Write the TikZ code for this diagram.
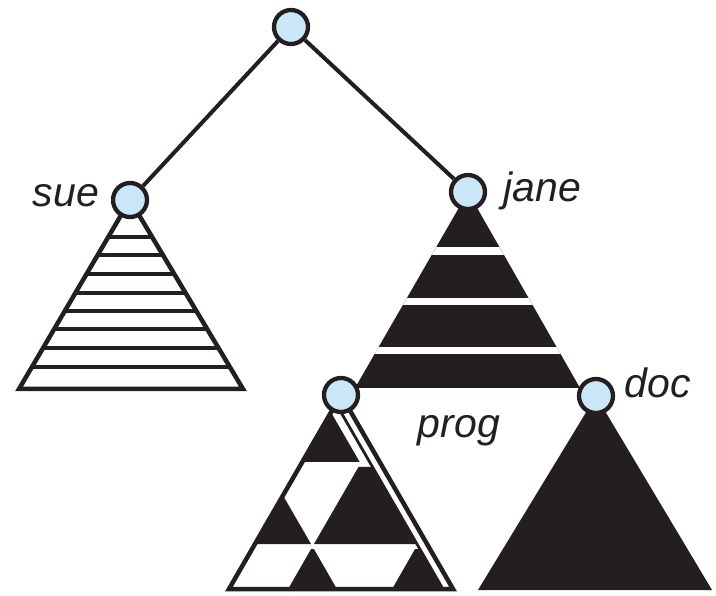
\documentclass[tikz,border=0pt]{standalone}
\usepackage{fontspec}
\setmainfont{Liberation Sans}
\usetikzlibrary{positioning,backgrounds}
\definecolor{ink}{HTML}{231F20}
\definecolor{dirblue}{HTML}{CBE6F6}

\begin{document}
\begin{tikzpicture}[x=1pt,y=-1pt,
    dirnode/.style={circle,draw=ink,fill=dirblue,line width=4.3pt,minimum size=34pt,inner sep=0pt},
    lbl/.style={font=\fontsize{41}{44}\selectfont\itshape,text=ink,inner sep=0pt,anchor=base},
    edge/.style={draw=ink,line width=4pt},
    outline/.style={draw=ink,line width=4.5pt},
    stripe/.style={draw=ink,line width=3.8pt}]
    \useasboundingbox (0,0) rectangle (716,596);

    % directories
    \node[dirnode] (root) at (291,27) {};
    \node[dirnode] (sue) at (130,200) {};
    \node[dirnode] (jane) at (468,192) {};
    \node[dirnode] (prog) at (341,395) {};
    \node[dirnode] (doc) at (596,396) {};

    \draw[edge] (root) -- (sue);
    \draw[edge] (root) -- (jane);

    % names
    \node[lbl] (suelbl) at (66,207) {sue};
    \node[lbl] (janelbl) at (542.5,202) {jane};
    \node[lbl] (proglbl) at (459,438) {prog};
    \node[lbl] (doclbl) at (657.5,398) {doc};

    \begin{pgfonlayer}{background}
      % sue: striped subtree
      \begin{scope}
        \clip (sue.center) -- (19,389) -- (243,389) -- cycle;
        \foreach \y in {236.7,255,273.7,292.7,310.7,329.3,348.3,366.7}
          \draw[stripe] (0,\y) -- (260,\y);
      \end{scope}
      \draw[outline] (sue.center) -- (19,389) -- (243,389) -- cycle;

      % jane: black with white bands
      \begin{scope}
        \clip (jane.center) -- (355,388) -- (580,388) -- cycle;
        \fill[ink] (300,150) rectangle (650,400);
        \foreach \y in {251,301.5,350.5}
          \fill[white] (300,\y-3.8) rectangle (650,\y+3.8);
      \end{scope}

      % doc: solid
      \fill[ink] (doc.center) -- (478,590) -- (712,590) -- cycle;

      % prog: checkered
      \fill[ink] (331,412.3) -- (302.3,462) -- (359.7,462) -- cycle;
      \fill[ink] (283,495.5) -- (255,544) -- (311,544) -- cycle;
      \fill[ink] (358.5,467) -- (372.5,467) -- (417,544) -- (314,544) -- cycle;
      \fill[ink] (311.1,549) -- (313.9,549) -- (336.9,589) -- (288.1,589) -- cycle;
      \fill[ink] (415.1,549) -- (419.9,549) -- (442.9,589) -- (392.1,589) -- cycle;
      \draw[ink,line width=2.8pt] (336,403.7) -- (442.9,589);
      \draw[outline] (prog.center) -- (229,589) -- (453,589) -- cycle;
    \end{pgfonlayer}
  \end{tikzpicture}
\end{document}
